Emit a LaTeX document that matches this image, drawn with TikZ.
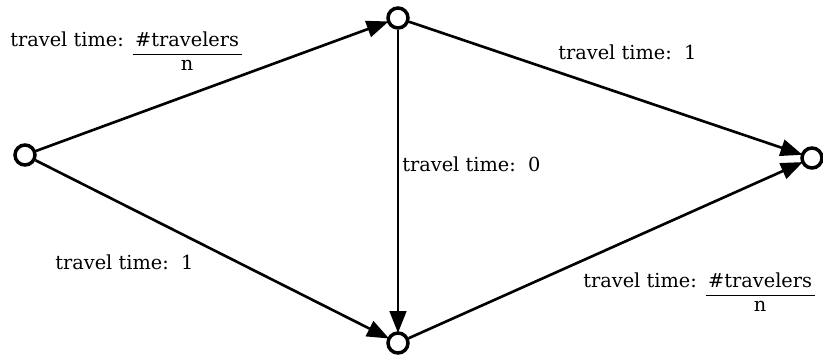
\documentclass[tikz,border=0pt]{standalone}
\usepackage{fontspec}
\setmainfont{DejaVu Serif}
\usetikzlibrary{arrows.meta}

\newcommand{\perlane}{\begin{tabular}[t]{@{\hspace{1.5pt}}c@{\hspace{1.5pt}}}\#travelers\\\hline n\end{tabular}}

\begin{document}
\begin{tikzpicture}[
  x=0.02cm, y=-0.02cm,
  vertex/.style = {draw, circle, line width=2pt, minimum size=0.4cm, inner sep=0pt},
  arrow/.style  = {-{Triangle[length=12.5pt, width=9.5pt]}, line width=1.5pt, shorten >=-1pt},
  label/.style  = {font=\fontsize{11}{13}\selectfont, inner sep=0pt, anchor=base west},
]
\useasboundingbox (0,0) rectangle (823,358);

% vertices
\node[vertex] (start) at (25,155)  {};
\node[vertex] (upper) at (398,18)  {};
\node[vertex] (lower) at (398,343) {};
\node[vertex] (goal)  at (812,158) {};

% edges
\draw[arrow] (start) -- (upper);
\draw[arrow] (start) -- (lower);
\draw[arrow] (upper) -- (lower);
\draw[arrow] (upper) -- (goal);
\draw[arrow] (lower) -- (goal);

% travel times
\node[label] (tA) at (10,47)    {travel time:\hspace{5pt}\perlane};
\node[label] (tB) at (558,60)   {travel time:\ \ 1};
\node[label] (tC) at (402,171.5) {travel time:\ \ 0};
\node[label] (tD) at (55,270)   {travel time:\ \ 1};
\node[label] (tE) at (583,288)  {travel time:\hspace{5pt}\perlane};

\end{tikzpicture}
\end{document}
